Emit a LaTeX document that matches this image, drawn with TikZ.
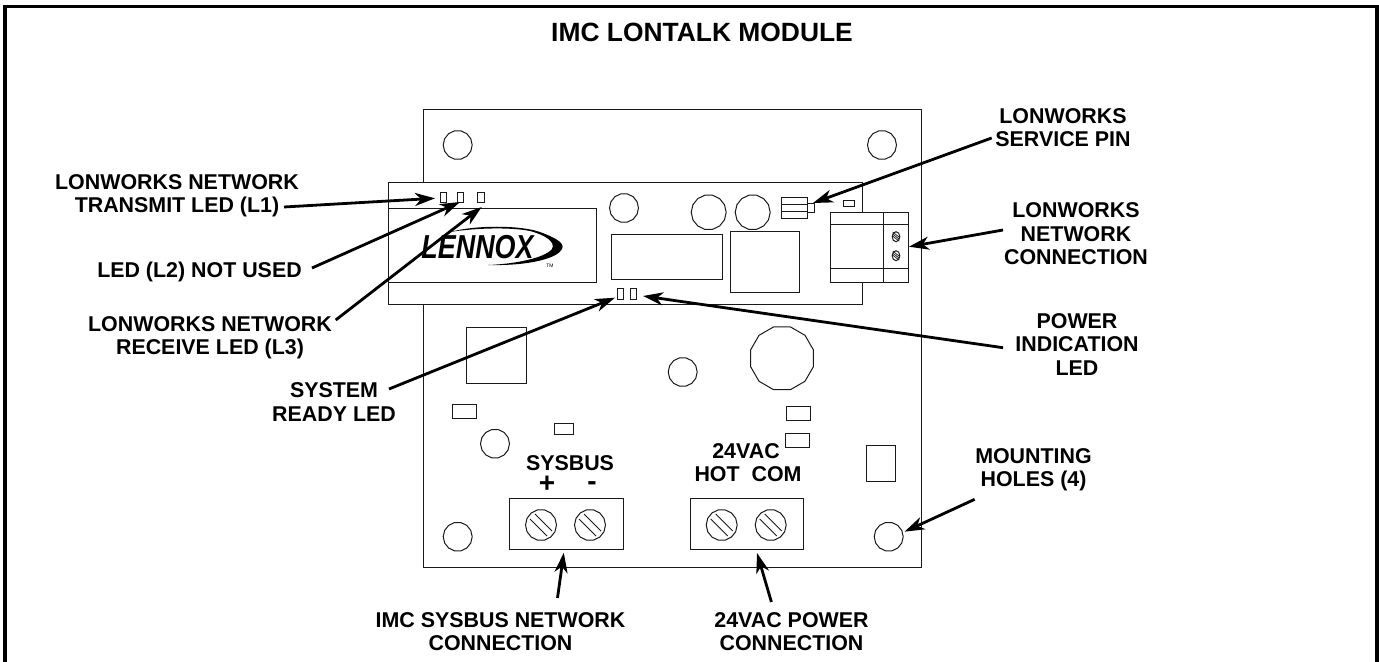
\documentclass[tikz,border=0pt]{standalone}
\usepackage{fontspec}
\setmainfont{Liberation Sans}
\usetikzlibrary{arrows.meta,shapes.geometric}
\definecolor{PartLine}{HTML}{1A1A1A}
\tikzset{>={Stealth[length=10pt,width=6.5pt,inset=3pt]},
 lbl/.style={font=\fontsize{10.7}{11.7}\selectfont\bfseries,align=center,inner sep=0pt},
 part/.style={draw=PartLine,line width=.5pt,fill=white},
 hole/.style={regular polygon,regular polygon sides=14,draw=PartLine,line width=.5pt,
  fill=white,inner sep=0pt,minimum size=14.5pt},
 pointer/.style={line width=1.4pt,->}}
\begin{document}
\begin{tikzpicture}[x=.5pt,y=-.5pt]
\useasboundingbox (0,0) rectangle (1379,662);
\draw[line width=1.75pt] (5,662)--(5,6.5)--(1377,6.5)--(1377,662);
\node[font=\fontsize{13.2}{15}\selectfont\bfseries,inner sep=0pt] (title) at (702,32) {IMC LONTALK MODULE};
% board and the plug-in module on it
\draw[part] (423.3,110) rectangle (921.7,567);
\draw[part] (388.5,182.5) rectangle (862.7,305);
\draw[part] (388.5,209)--(596,209)--(596,283)--(388.5,283);
\foreach \xa/\ya/\xb/\yb in {440.5/192.5/446.5/203,457.5/192.5/463.5/203,477.7/192.5/484/203,
 617.3/288.3/623.7/299.3,630.7/288.3/636.7/299.3,611.3/234.3/722.3/279.3,730.7/231.3/799/292.7,
 843.3/200.7/854.7/206.3,466.3/327.3/526.7/383.3,452/404/476.7/418.3,554.3/423.7/573.3/434.3,
 786.3/406.3/810.7/420.3,785/433/809.7/447,866/445.7/895.3/481.7,
 509.3/498/623/549.3,690/498/803.7/549.3}
 {\draw[part] (\xa,\ya) rectangle (\xb,\yb);}
\foreach \x/\y/\nm in {457.7/145/holeA,882/145/holeB,457.7/536.7/holeC,888.7/536.7/holeD,
 624/208/padA,682.7/372/padB,495/443.7/padC}
 {\node[hole] (\nm) at (\x,\y) {};}
\node[hole,minimum size=17.5pt] (capA) at (708.7,212.3) {};
\node[hole,minimum size=17.5pt] (capB) at (752.7,212.3) {};
\node[hole,regular polygon sides=12,minimum size=32.5pt] (capC) at (782,358.3) {};
% service pin
\draw[part] (781.7,197.7) rectangle (807,218.3);
\draw[part] (781.7,205)--(807,205) (781.7,211.3)--(807,211.3);
\draw[part] (807,204) rectangle (814.3,213);
% network connector
\draw[part] (830.3,212.3) rectangle (908,282.3);
\draw[part] (830.3,225)--(908,225) (830.3,268.3)--(908,268.3) (883,212.3)--(883,282.3);
\foreach \y in {236.7,255.7}{
 \draw[part] (896,\y) ellipse (3.8 and 5);
 \foreach \d in {-2,0,2}
  \draw[PartLine,line width=.35pt] (892.8,\y-2.5+\d)--(899.2,\y+2.5+\d);
}
% terminal screws
\foreach \x/\nm in {541/screwA,590/screwB,721.7/screwC,770.7/screwD}{
 \node[hole,minimum size=15.5pt] (\nm) at (\x,525) {};
 \draw[PartLine,line width=.5pt] (\x-11,525-6)--(\x+6,525+11) (\x-6,525-11)--(\x+11,525+6);
}
% logo
\fill (450,232) .. controls (475,225) and (520,225) .. (540,232)
 .. controls (556,238) and (565,243) .. (562,249)
 .. controls (558,258) and (530,266) .. (488,265)
 .. controls (515,264) and (545,258) .. (552,249)
 .. controls (556,242) and (545,235) .. (530,231)
 .. controls (510,227) and (475,228) .. (450,232) -- cycle;
\node[font=\fontsize{16.6}{18}\selectfont\bfseries\itshape,inner sep=0pt,xscale=.81,transform shape] (logo) at (477.5,247) {LENNOX};
\node[font=\fontsize{2.5}{3}\selectfont,inner sep=0pt] (tm) at (550,266) {TM};
% labels
\node[lbl] (lblTx) at (177,196) {LONWORKS NETWORK\\TRANSMIT LED (L1)};
\node[lbl] (lblNo) at (199.5,272) {LED (L2) NOT USED};
\node[lbl] (lblRx) at (210,337.5) {LONWORKS NETWORK\\RECEIVE LED (L3)};
\node[lbl] (lblRdy) at (334,402) {SYSTEM\\READY LED};
\node[lbl] (lblPwr) at (1077,344.5) {POWER\\INDICATION\\LED};
\node[lbl] (lblPin) at (1063,127.5) {LONWORKS\\SERVICE PIN};
\node[lbl] (lblNet) at (1076,234) {LONWORKS\\NETWORK\\CONNECTION};
\node[lbl] (lblHole) at (1033.5,470) {MOUNTING\\HOLES (4)};
\node[lbl] (lblBus) at (500.5,631.5) {IMC SYSBUS NETWORK\\CONNECTION};
\node[lbl] (lblAc) at (791.5,631.5) {24VAC POWER\\CONNECTION};
\node[lbl] (lblSys) at (570,463) {SYSBUS};
\node[lbl,font=\fontsize{14}{14}\selectfont\bfseries] (lblPlus) at (547,484) {+};
\node[lbl,font=\fontsize{14}{14}\selectfont\bfseries] (lblMinus) at (592,486) {-};
\node[lbl] (lblVac) at (746,451) {24VAC};
\node[lbl] (lblHot) at (748,474) {HOT\ \ COM};
% pointers
\foreach \xa/\ya/\xb/\yb in {284/207/435/198.3,312/268/460/202,335.7/320/481.7/207,
 389/389/615/297.7,1003/347.7/643/296,991.7/138/813/203,1003/230/909/246.7,
 974.7/499.3/904.5/531.7,557.5/598/563.8/552.7,771.4/602/757/553}
 {\coordinate (from) at (\xa,\ya); \coordinate (to) at (\xb,\yb); \draw[pointer] (from)--(to);}
\end{tikzpicture}
\end{document}
